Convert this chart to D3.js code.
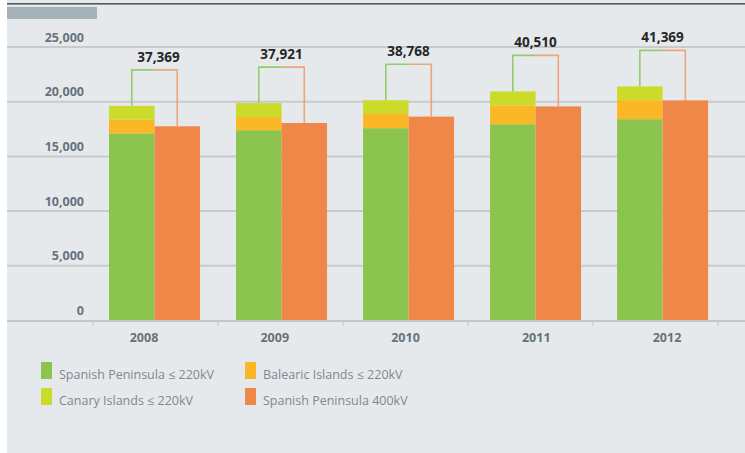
<!DOCTYPE html>
<html><head><meta charset="utf-8">
<script src="https://cdn.jsdelivr.net/npm/d3@7"></script>
<style>
html,body{margin:0;padding:0;background:#fff;}
svg{display:block;}
</style></head>
<body>
<svg id="chart" width="745" height="453"></svg>
<script>
// ---- data ----
const years = ["2008", "2009", "2010", "2011", "2012"];
const peninsula220 = [17100, 17400, 17580, 17940, 18400];
const balearic220  = [1270, 1190, 1300, 1720, 1740];
const canary220    = [1250, 1280, 1250, 1280, 1260];
const peninsula400 = [17749, 18051, 18638, 19570, 20120];
const totalLabels  = ["37,369", "37,921", "38,768", "40,510", "41,369"];
const yTicks = [0, 5000, 10000, 15000, 20000, 25000];
const legendNames = ["Spanish Peninsula \u2264 220kV", "Balearic Islands \u2264 220kV", "Canary Islands \u2264 220kV", "Spanish Peninsula 400kV"];

const colors = {
  pen220: "#8bc54e",
  bal: "#fbb726",
  can: "#cadb2a",
  pen400: "#ee8748"
};

const svg = d3.select("#chart");
const W = 745, H = 453;

// background panel
svg.append("rect").attr("x", 7).attr("y", 0).attr("width", W - 7).attr("height", H).attr("fill", "#e6e9ec");
svg.append("rect").attr("x", 7).attr("y", 3).attr("width", W - 7).attr("height", 1.6).attr("fill", "#4e5b66");
svg.append("rect").attr("x", 7).attr("y", 7).attr("width", 90).attr("height", 12).attr("fill", "#a6b2ba");

const y = d3.scaleLinear().domain([0, 25000]).range([320.5, 47]);
const x = d3.scaleBand().domain(years).range([45.5, 771.6]).paddingInner(0.2835).paddingOuter(0.5);
const xLabel = d3.scalePoint().domain(years).range([144, 667]);
const tickPos = d3.scaleLinear().domain([0, 5]).range([93, 718]);

const font = "'Open Sans', 'DejaVu Sans', sans-serif";

// gridlines
svg.append("g").selectAll("line").data(yTicks.slice(1)).join("line")
  .attr("x1", 7).attr("x2", W).attr("y1", d => y(d)).attr("y2", d => y(d))
  .attr("stroke", "#c9cacd").attr("stroke-width", 2);

// y labels
svg.append("g").selectAll("text").data(yTicks).join("text")
  .attr("x", 84).attr("y", d => y(d) - 5.5)
  .attr("text-anchor", "end")
  .attr("font-family", font).attr("font-weight", 700).attr("font-size", 12.5)
  .attr("fill", "#66727b")
  .text(d => d3.format(",")(d));

// bars
const bw = x.bandwidth() / 2;
const data = years.map((yr, i) => ({
  yr, i,
  stack: [
    {c: colors.pen220, y0: 0, y1: peninsula220[i]},
    {c: colors.bal, y0: peninsula220[i], y1: peninsula220[i] + balearic220[i]},
    {c: colors.can, y0: peninsula220[i] + balearic220[i], y1: peninsula220[i] + balearic220[i] + canary220[i]}
  ],
  right: peninsula400[i]
}));

const g = svg.append("g");
data.forEach(d => {
  const x0 = x(d.yr);
  d.stack.forEach(s => {
    g.append("rect").attr("x", x0).attr("width", bw)
      .attr("y", y(s.y1)).attr("height", y(s.y0) - y(s.y1)).attr("fill", s.c);
  });
  g.append("rect").attr("x", x0 + bw).attr("width", bw)
    .attr("y", y(d.right)).attr("height", y(0) - y(d.right)).attr("fill", colors.pen400);

  // bracket
  const leftTop = y(d.stack[2].y1);
  const by = leftTop - 36;
  const lx = x0 + bw / 2, rx = x0 + bw * 1.5, mx = (lx + rx) / 2;
  g.append("path").attr("d", `M${lx},${leftTop}V${by}H${mx}`)
    .attr("fill", "none").attr("stroke", "#94cc6a").attr("stroke-width", 1.6);
  g.append("path").attr("d", `M${mx},${by}H${rx}V${y(d.right)}`)
    .attr("fill", "none").attr("stroke", "#ee9560").attr("stroke-opacity", 0.8).attr("stroke-width", 1.6);
  g.append("text").attr("x", mx + (d.i === 0 ? 4 : 0)).attr("y", by - 8)
    .attr("text-anchor", "middle")
    .attr("font-family", font).attr("font-weight", 700).attr("font-size", 13.5)
    .attr("fill", "#262626")
    .text(totalLabels[d.i]);
});

// x axis line and ticks
svg.append("line").attr("x1", 7).attr("x2", W).attr("y1", y(0) + 0.5).attr("y2", y(0) + 0.5)
  .attr("stroke", "#c2c5c9").attr("stroke-width", 2);
svg.append("g").selectAll("line").data(d3.range(6)).join("line")
  .attr("x1", d => tickPos(d)).attr("x2", d => tickPos(d))
  .attr("y1", y(0) + 1).attr("y2", y(0) + 5)
  .attr("stroke", "#c2c5c9").attr("stroke-width", 1.2);

svg.append("g").selectAll("text").data(years).join("text")
  .attr("x", d => xLabel(d)).attr("y", 342)
  .attr("text-anchor", "middle")
  .attr("font-family", font).attr("font-weight", 700).attr("font-size", 12.5)
  .attr("fill", "#66727b")
  .text(d => d);

// legend
const legColors = [colors.pen220, colors.bal, colors.can, colors.pen400];
const legPos = [[41, 362], [245, 362], [41, 388], [245, 388]];
legendNames.forEach((n, i) => {
  const [lx, ly] = legPos[i];
  svg.append("rect").attr("x", lx).attr("y", ly).attr("width", 11).attr("height", 17).attr("fill", legColors[i]);
  svg.append("text").attr("x", lx + 18).attr("y", ly + 17)
    .attr("font-family", font).attr("font-size", 12.5)
    .attr("fill", "#7d8891")
    .text(n);
});
</script>
</body></html>
